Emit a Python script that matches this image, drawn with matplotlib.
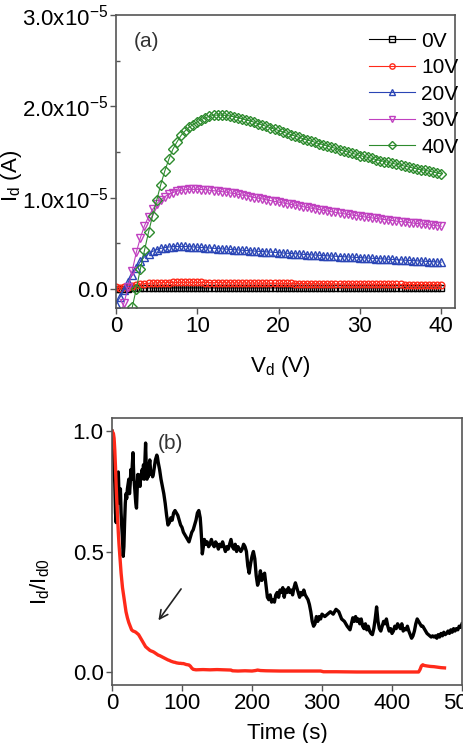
import numpy as np
import matplotlib
matplotlib.use("Agg")
import matplotlib.pyplot as plt
from matplotlib.ticker import FuncFormatter, FixedLocator

plt.rcParams['font.family'] = ['Liberation Sans', 'DejaVu Sans']
plt.rcParams['mathtext.fontset'] = 'custom'
plt.rcParams['mathtext.rm'] = 'Liberation Sans'
plt.rcParams['mathtext.it'] = 'Liberation Sans'
plt.rcParams['mathtext.default'] = 'regular'

# ---------------- Panel (a): output curves, current in units of 1e-5 A ----------------
Vd = [0, 0.5, 1, 1.5, 2, 2.5, 3, 3.5, 4, 4.5, 5, 5.5, 6, 6.5, 7, 7.5, 8, 8.5, 9, 9.5,
      10, 10.5, 11, 11.5, 12, 12.5, 13, 13.5, 14, 14.5, 15, 15.5, 16, 16.5, 17, 17.5,
      18, 18.5, 19, 19.5, 20, 20.5, 21, 21.5, 22, 22.5, 23, 23.5, 24, 24.5, 25, 25.5,
      26, 26.5, 27, 27.5, 28, 28.5, 29, 29.5, 30, 30.5, 31, 31.5, 32, 32.5, 33, 33.5,
      34, 34.5, 35, 35.5, 36, 36.5, 37, 37.5, 38, 38.5, 39, 39.5, 40]

Id_0V = [0.0, 0.0, 0.0, 0.003, 0.005, 0.007, 0.008, 0.009, 0.01, 0.01, 0.01, 0.01, 0.01,
         0.01, 0.01, 0.01, 0.01, 0.01, 0.01, 0.01, 0.01, 0.01, 0.01, 0.01, 0.01, 0.01,
         0.01, 0.01, 0.01, 0.01, 0.01, 0.01, 0.01, 0.01, 0.01, 0.01, 0.01, 0.01, 0.01,
         0.01, 0.01, 0.01, 0.01, 0.01, 0.01, 0.01, 0.01, 0.01, 0.01, 0.01, 0.01, 0.01,
         0.01, 0.01, 0.01, 0.01, 0.01, 0.01, 0.01, 0.01, 0.01, 0.01, 0.01, 0.01, 0.01,
         0.01, 0.01, 0.01, 0.01, 0.01, 0.01, 0.01, 0.01, 0.01, 0.01, 0.01, 0.01, 0.01,
         0.01, 0.01, 0.01]

Id_10V = [0.02, 0.01, 0.015, 0.025, 0.035, 0.045, 0.052, 0.057, 0.06, 0.063, 0.065, 0.067,
          0.068, 0.069, 0.07, 0.07, 0.071, 0.071, 0.071, 0.071, 0.07, 0.07, 0.069, 0.069,
          0.068, 0.068, 0.067, 0.067, 0.066, 0.066, 0.065, 0.065, 0.064, 0.064, 0.063,
          0.063, 0.062, 0.062, 0.061, 0.061, 0.06, 0.06, 0.059, 0.059, 0.058, 0.058, 0.057,
          0.057, 0.056, 0.056, 0.055, 0.055, 0.054, 0.054, 0.053, 0.053, 0.053, 0.052,
          0.052, 0.051, 0.051, 0.051, 0.05, 0.05, 0.05, 0.049, 0.049, 0.049, 0.048, 0.048,
          0.048, 0.047, 0.047, 0.047, 0.046, 0.046, 0.046, 0.045, 0.045, 0.045, 0.044]

Id_20V = [-0.17, -0.09, -0.01, 0.07, 0.15, 0.23, 0.3, 0.35, 0.385, 0.41, 0.43, 0.443,
          0.452, 0.458, 0.462, 0.464, 0.465, 0.464, 0.462, 0.459, 0.456, 0.453, 0.45,
          0.447, 0.444, 0.441, 0.438, 0.435, 0.432, 0.429, 0.426, 0.423, 0.42, 0.417,
          0.414, 0.411, 0.408, 0.405, 0.402, 0.399, 0.396, 0.393, 0.39, 0.387, 0.384,
          0.381, 0.378, 0.375, 0.372, 0.37, 0.367, 0.364, 0.362, 0.359, 0.357, 0.354,
          0.352, 0.349, 0.347, 0.344, 0.342, 0.339, 0.337, 0.334, 0.332, 0.329, 0.327,
          0.324, 0.322, 0.319, 0.317, 0.314, 0.312, 0.309, 0.307, 0.304, 0.302, 0.299,
          0.297, 0.294, 0.292]

Id_30V = [-0.45, -0.3, -0.15, 0.02, 0.2, 0.4, 0.56, 0.69, 0.79, 0.87, 0.93, 0.975, 1.01,
          1.035, 1.055, 1.07, 1.08, 1.085, 1.09, 1.09, 1.09, 1.088, 1.085, 1.08, 1.075,
          1.07, 1.065, 1.06, 1.05, 1.045, 1.035, 1.027, 1.02, 1.01, 1.0, 0.993, 0.985,
          0.975, 0.967, 0.958, 0.95, 0.942, 0.933, 0.925, 0.917, 0.908, 0.9, 0.892, 0.884,
          0.876, 0.868, 0.86, 0.853, 0.845, 0.838, 0.83, 0.823, 0.816, 0.809, 0.802, 0.795,
          0.789, 0.783, 0.777, 0.771, 0.765, 0.759, 0.753, 0.748, 0.742, 0.737, 0.731,
          0.726, 0.721, 0.716, 0.711, 0.706, 0.701, 0.696, 0.691, 0.686]

Id_40V = [-1.0, -0.8, -0.6, -0.4, -0.2, 0.0, 0.22, 0.42, 0.62, 0.8, 0.97, 1.14, 1.29,
          1.42, 1.53, 1.61, 1.68, 1.73, 1.77, 1.8, 1.83, 1.855, 1.875, 1.89, 1.9, 1.905,
          1.905, 1.9, 1.895, 1.885, 1.875, 1.865, 1.85, 1.84, 1.825, 1.81, 1.795, 1.78,
          1.765, 1.75, 1.735, 1.72, 1.705, 1.69, 1.675, 1.66, 1.645, 1.63, 1.62, 1.605,
          1.59, 1.58, 1.565, 1.55, 1.54, 1.525, 1.51, 1.5, 1.485, 1.475, 1.46, 1.45, 1.44,
          1.43, 1.415, 1.405, 1.395, 1.385, 1.375, 1.365, 1.355, 1.345, 1.335, 1.325,
          1.315, 1.305, 1.3, 1.29, 1.28, 1.27, 1.26]

gate_labels = ['0V', '10V', '20V', '30V', '40V']
yticks_a = [0.0, 1.0, 2.0, 3.0]      # in units of 1e-5 A
xticks_a = [0, 10, 20, 30, 40]

# ---------------- Panel (b): normalized current vs time ----------------
t_black = [0, 1, 2, 3, 4, 5, 6, 7, 8, 9, 10, 11, 12, 13, 14, 15, 16, 17, 18, 19, 20, 21, 22,
           24, 25, 26, 27, 28, 29, 30, 31, 32, 33, 34, 35, 36, 37, 38, 39, 40, 41, 42, 43,
           44, 45, 46, 47, 48, 49, 50, 51, 52, 53, 54, 55, 56, 57, 58, 59, 60, 61, 62, 63,
           64, 65, 66, 68, 70, 72, 74, 76, 78, 80, 82, 84, 86, 88, 90, 92, 94, 96, 98, 100,
           102, 104, 106, 108, 110, 112, 114, 116, 118, 120, 122, 124, 126, 127, 128, 129,
           130, 132, 134, 136, 138, 140, 142, 144, 146, 148, 150, 152, 154, 156, 158, 160,
           162, 164, 166, 168, 170, 172, 174, 176, 178, 180, 182, 184, 186, 188, 190, 192,
           194, 196, 198, 200, 202, 204, 206, 208, 210, 212, 214, 216, 218, 220, 222, 224,
           226, 228, 230, 232, 234, 236, 238, 240, 242, 244, 246, 248, 250, 252, 254, 256,
           258, 260, 262, 264, 266, 268, 270, 272, 274, 276, 278, 280, 282, 284, 286, 288,
           290, 292, 294, 296, 298, 300, 304, 308, 312, 316, 320, 324, 328, 332, 336, 340,
           342, 344, 346, 348, 350, 352, 354, 356, 358, 360, 362, 364, 366, 368, 370, 372,
           374, 376, 378, 380, 382, 384, 386, 388, 390, 392, 394, 396, 398, 400, 402, 404,
           406, 408, 410, 412, 414, 416, 418, 420, 422, 424, 426, 428, 430, 432, 434, 436,
           438, 440, 442, 444, 446, 448, 450, 452, 454, 456, 458, 460, 462, 464, 466, 468,
           470, 472, 474, 476, 478, 480, 482, 484, 486, 488, 490, 492, 494, 496, 498, 500]
I_black = [1.00, 0.97, 0.92, 0.86, 0.78, 0.66, 0.62, 0.70, 0.80, 0.83, 0.74, 0.70, 0.76,
           0.66, 0.60, 0.55, 0.48, 0.52, 0.62, 0.70, 0.74, 0.72, 0.76, 0.80, 0.74, 0.78,
           0.84, 0.80, 0.86, 0.91, 0.82, 0.78, 0.74, 0.70, 0.68, 0.76, 0.82, 0.79, 0.80,
           0.77, 0.82, 0.80, 0.84, 0.82, 0.86, 0.80, 0.88, 0.95, 0.84, 0.80, 0.83, 0.81,
           0.86, 0.88, 0.84, 0.82, 0.83, 0.81, 0.82, 0.84, 0.86, 0.88, 0.89, 0.90, 0.89,
           0.87, 0.84, 0.80, 0.77, 0.74, 0.70, 0.65, 0.61, 0.62, 0.64, 0.63, 0.66, 0.67,
           0.66, 0.65, 0.63, 0.61, 0.60, 0.58, 0.57, 0.56, 0.55, 0.54, 0.56, 0.58, 0.59,
           0.61, 0.63, 0.66, 0.67, 0.64, 0.60, 0.55, 0.49, 0.51, 0.55, 0.53, 0.54, 0.52,
           0.53, 0.55, 0.53, 0.52, 0.54, 0.53, 0.51, 0.53, 0.52, 0.54, 0.52, 0.50, 0.52,
           0.51, 0.53, 0.55, 0.52, 0.51, 0.53, 0.50, 0.52, 0.51, 0.50, 0.51, 0.53, 0.52,
           0.50, 0.44, 0.41, 0.45, 0.48, 0.50, 0.47, 0.40, 0.36, 0.38, 0.42, 0.38, 0.40,
           0.41, 0.36, 0.31, 0.30, 0.32, 0.29, 0.30, 0.29, 0.32, 0.33, 0.31, 0.34, 0.33,
           0.35, 0.31, 0.34, 0.33, 0.35, 0.33, 0.34, 0.32, 0.35, 0.37, 0.35, 0.33, 0.31,
           0.33, 0.32, 0.34, 0.32, 0.31, 0.30, 0.28, 0.25, 0.21, 0.19, 0.20, 0.23, 0.21,
           0.23, 0.22, 0.24, 0.23, 0.24, 0.25, 0.24, 0.26, 0.25, 0.22, 0.21, 0.19, 0.175,
           0.20, 0.225, 0.21, 0.23, 0.21, 0.22, 0.20, 0.22, 0.19, 0.18, 0.20, 0.175, 0.19,
           0.17, 0.16, 0.155, 0.18, 0.22, 0.27, 0.21, 0.18, 0.17, 0.19, 0.21, 0.20, 0.22,
           0.19, 0.17, 0.18, 0.16, 0.17, 0.19, 0.18, 0.20, 0.19, 0.18, 0.20, 0.17, 0.18,
           0.175, 0.19, 0.17, 0.155, 0.14, 0.15, 0.17, 0.20, 0.22, 0.21, 0.20, 0.19, 0.19,
           0.18, 0.17, 0.16, 0.155, 0.15, 0.145, 0.15, 0.145, 0.15, 0.14, 0.155, 0.145,
           0.16, 0.15, 0.165, 0.155, 0.16, 0.17, 0.16, 0.175, 0.165, 0.18, 0.17, 0.18,
           0.175, 0.19, 0.185, 0.20]

t_red = [0, 2, 3, 4, 5, 6, 7, 8, 9, 10, 11, 12, 13, 14, 15, 16, 17, 18, 19, 20, 22, 24, 26,
         28, 30, 32, 34, 36, 38, 40, 42, 44, 46, 48, 50, 52, 54, 56, 58, 60, 62, 64, 66,
         68, 70, 72, 74, 76, 78, 80, 82, 84, 86, 88, 90, 92, 94, 96, 98, 100, 102, 104,
         106, 108, 110, 112, 114, 116, 118, 120, 130, 140, 150, 160, 170, 172, 180, 190,
         200, 205, 208, 212, 220, 240, 260, 280, 298, 302, 320, 350, 380, 410, 438, 440,
         442, 444, 446, 450, 455, 460, 465, 470, 475]
I_red = [1.0, 0.99, 0.97, 0.92, 0.85, 0.77, 0.70, 0.64, 0.58, 0.53, 0.49, 0.45, 0.41, 0.38,
         0.35, 0.33, 0.31, 0.29, 0.27, 0.25, 0.225, 0.205, 0.19, 0.175, 0.17, 0.168, 0.165,
         0.16, 0.155, 0.145, 0.135, 0.125, 0.115, 0.105, 0.10, 0.095, 0.09, 0.087, 0.085,
         0.082, 0.078, 0.074, 0.07, 0.068, 0.065, 0.062, 0.059, 0.056, 0.053, 0.05, 0.048,
         0.045, 0.043, 0.041, 0.04, 0.038, 0.037, 0.036, 0.036, 0.035, 0.035, 0.033, 0.031,
         0.03, 0.029, 0.024, 0.016, 0.011, 0.01, 0.009, 0.01, 0.009, 0.01, 0.009, 0.008,
         0.005, 0.004, 0.005, 0.004, 0.006, 0.008, 0.006, 0.005, 0.004, 0.004, 0.004, 0.004,
         0.001, 0.001, 0.0, 0.0, 0.0, 0.0, 0.01, 0.025, 0.03, 0.027, 0.025, 0.023, 0.022,
         0.02, 0.018, 0.017]

yticks_b = [0.0, 0.5, 1.0]
xticks_b = [0, 100, 200, 300, 400, 500]

# ---------------- Figure ----------------
fig = plt.figure(figsize=(4.64, 7.43), dpi=100)
spine_col = '#555555'
FS = 16

# Panel (a)
ax1 = fig.add_axes([116/464, 1 - 308/743, (455 - 116)/464, (308 - 15)/743])
series = [Id_0V, Id_10V, Id_20V, Id_30V, Id_40V]
colors = ['#000000', '#ff2a1a', '#2a45b5', '#c040c0', '#2e8b2e']
markers = ['s', 'o', '^', 'v', 'D']
msizes = [4.6, 4.8, 5.4, 5.4, 4.8]
Vd_arr = np.array(Vd)
for ys, c, m, ms, lab in zip(series, colors, markers, msizes, gate_labels):
    ax1.plot(Vd_arr, np.array(ys) * 1e-5, color=c, lw=0.8, marker=m, ms=ms,
             mfc='none', mec=c, mew=1.0, label=lab)
ax1.set_xlim(0, 41.7)
ax1.set_ylim(-0.21e-5, 3.0e-5)
ax1.xaxis.set_major_locator(FixedLocator(xticks_a))
ax1.yaxis.set_major_locator(FixedLocator([v * 1e-5 for v in yticks_a]))
ax1.yaxis.set_minor_locator(FixedLocator([0.5e-5, 1.5e-5, 2.5e-5]))


def fmt_a(v, pos):
    if abs(v) < 1e-12:
        return '0.0'
    return '%.1fx10$^{-5}$' % (v / 1e-5)


ax1.yaxis.set_major_formatter(FuncFormatter(fmt_a))
ax1.tick_params(axis='both', which='major', direction='out', length=4, width=1,
                color=spine_col, labelsize=FS, pad=2)
ax1.tick_params(axis='y', which='minor', direction='in', length=3, width=1, color=spine_col)
for s in ax1.spines.values():
    s.set_color(spine_col)
    s.set_linewidth(1.2)
leg = ax1.legend(loc='upper right', bbox_to_anchor=(1.06, 1.0), frameon=False,
                 fontsize=15, handlelength=2.2, handletextpad=0.3, labelspacing=0.36,
                 borderaxespad=0.4, markerscale=0.8)
ax1.text(3.8, 2.71e-5, '(a)', fontsize=15, ha='center', va='center', color='#333333')
fig.text(280/464, 1 - 367/743, 'V$_d$ (V)', fontsize=FS, ha='center', va='center')
fig.text(12/464, 1 - 176/743, 'I$_d$ (A)', fontsize=FS, ha='center', va='center',
         rotation=90)

# Panel (b)
ax2 = fig.add_axes([112/464, 1 - 685/743, (462 - 112)/464, (685 - 418)/743])
ax2.plot(np.array(t_black), np.array(I_black), color='black', lw=2.4)
ax2.plot(np.array(t_red), np.array(I_red), color='#ff2a1a', lw=2.4)
ax2.set_xlim(0, 500)
ax2.set_ylim(-0.054, 1.054)
ax2.xaxis.set_major_locator(FixedLocator(xticks_b))
ax2.yaxis.set_major_locator(FixedLocator(yticks_b))
ax2.yaxis.set_major_formatter(FuncFormatter(lambda v, p: '%.1f' % v))
ax2.tick_params(axis='both', which='major', direction='out', length=4, width=1,
                color=spine_col, labelsize=FS, pad=2)
for s in ax2.spines.values():
    s.set_color(spine_col)
    s.set_linewidth(1.2)
ax2.annotate('', xy=(64, 0.205), xytext=(101, 0.354),
             arrowprops=dict(arrowstyle='->,head_length=0.6,head_width=0.3',
                             color='#222222', lw=1.2))
ax2.text(66, 0.95, '(b)', fontsize=15, ha='left', va='center', color='#333333')
fig.text(287/464, 1 - 733/743, 'Time (s)', fontsize=FS, ha='center', va='center')
fig.text(40/464, 1 - 582/743, 'I$_d$/I$_{d0}$', fontsize=FS, ha='center', va='center',
         rotation=90)

fig.savefig('out.png', dpi=100)
